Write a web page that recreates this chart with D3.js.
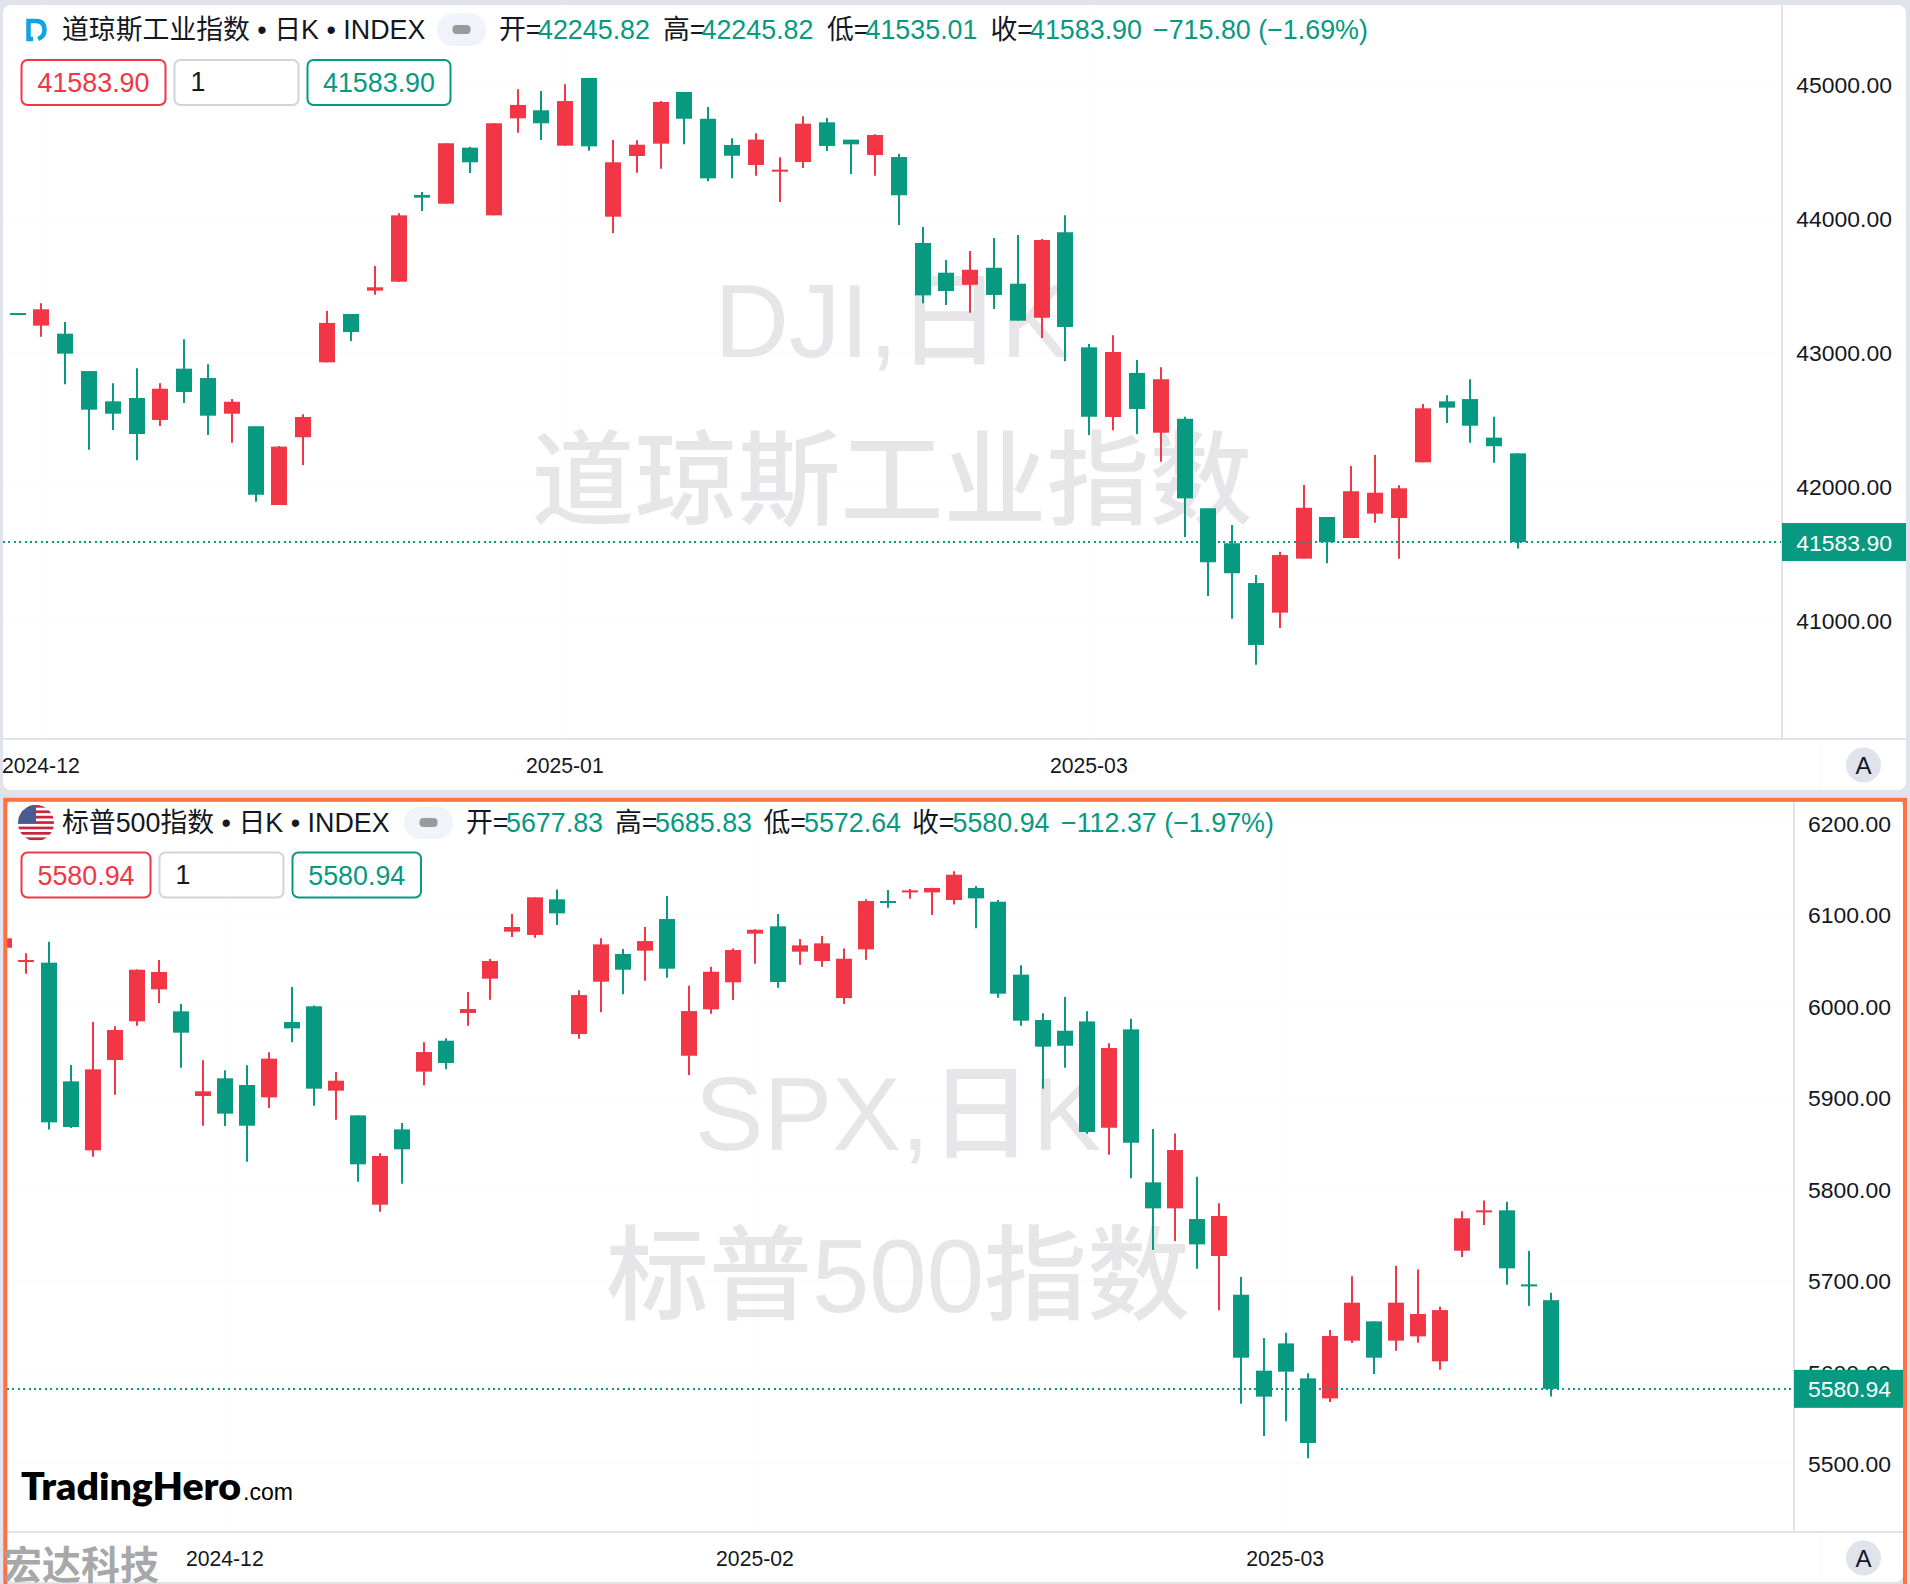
<!DOCTYPE html>
<html>
<head>
<meta charset="utf-8">
<script src="https://cdn.jsdelivr.net/npm/d3@7"></script>
<style>
    html, body { margin: 0; padding: 0; background: #e0e3eb; }
    svg { display: block; }
    text { font-family: "Liberation Sans", "Noto Sans CJK SC", sans-serif; }
</style>
</head>
<body>
<div id="chart-container"></div>
<script>
// Dow Jones daily candles
const djiOpen = [43293,43199,43139,42860,42634,42659,42495,42878,42808,42542,
    42448,41860,42366,42925,43286,43460,43527,44174,44109,44527,
    44022,44746,44806,44542,45047,44012,44465,44557,44943,44743,
    44547,44398,44351,44420,44716,44587,44472,44457,43816,43594,
    43504,43631,43512,43258,43896,43037,42517,42846,42400,42504,
    41836,41575,41278,41057,41460,41771,41614,41796,41763,42179,
    42634,42651,42363,42245.82];
const djiHigh = [43293,43366,43226,42860,42769,42881,42769,43097,42910,42651,
    42448,42301,42537,43308,43286,43644,44037,44196,44560,44534,
    44711,44963,44950,45000,45047,44584,44582,44875,44943,44831,
    44597,44634,44455,44761,44749,44587,44627,44482,43935,43689,
    43756,43853,43875,43846,44022,43062,43127,42943,42888,42519,
    41836,41711,41338,41512,42010,41771,42151,42234,42007,42614,
    42679,42799,42519,42245.82];
const djiLow = [43278,43116,42761,42273,42420,42194,42450,42622,42383,42325,
    41885,41860,42159,42925,43084,43430,43527,44054,44109,44338,
    44022,44639,44584,44542,44504,43888,44340,44370,44552,44276,
    44298,44318,44122,44375,44502,44331,44318,43950,43366,43353,
    43296,43323,43236,43107,42933,42383,42418,42390,42184,41622,
    41181,41012,40669,40943,41460,41425,41614,41728,41460,42179,
    42472,42325,42176,41535.01];
const djiClose = [43278,43321,42990,42572,42542,42390,42728,42704,42527,42631,
    41937,42296,42517,43219,43151,43485,44022,44154,44560,44418,
    44709,44846,44709,44875,44537,44418,44549,44868,44743,44298,
    44467,44587,44363,44706,44540,44552,44622,44172,43425,43457,
    43616,43428,43236,43838,43189,42519,43002,42577,42799,41910,
    41433,41351,40816,41487,41840,41582,41963,41952,41985,42582,
    42587,42452,42299,41583.90];
const djiTicks = [41000, 42000, 43000, 44000, 45000];
const djiMonthIndex = [1, 23, 45];
const djiMonths = ["2024-12", "2025-01", "2025-03"];

// S&P 500 daily candles
const spxOpen = [6063,6047.8,6046.7,5917,5841.6,5940.3,5982.6,6017.5,5993.5,5901,
    5920.3,5913,5899.5,5981.8,5999,5906.8,5879.8,5782.2,5864.5,5927.6,
    5961.4,5991.7,6029.2,6080.6,6077,6115.9,5968.7,6025.9,6056.2,6059.8,
    6094.4,5945,5995.7,6025.2,6078.4,6086.4,6058.7,6048.5,6008,6061.2,
    6114.1,6123.9,6123.5,6115.2,6128.3,6113.3,6033.6,5984,5972.3,5982.5,
    5866.3,5973.8,5806.6,5778.2,5766.5,5726.1,5683.8,5600.8,5630.6,5592.4,
    5570.5,5633.6,5654.7,5633.6,5638.3,5611,5731.9,5774.5,5776,5695.1,5677.83];
const spxHigh = [6075,6056.9,6069.6,5934.9,5981.9,5977.1,6039.3,6049.6,6001.5,5940,
    5929,5934.5,5948.7,6020.1,6000,5927.2,5879.8,5838.3,5871.5,5959.6,
    5964,6014.6,6050.7,6099.9,6118.1,6126.8,6016.5,6073.3,6061.6,6085.6,
    6119.5,6021.5,6042.3,6062.3,6083.1,6099.9,6072.5,6075.8,6062.3,6115.9,
    6126,6127.2,6128.6,6146.5,6130.5,6115.2,6043.8,5991.3,6009.1,5993.5,
    5958.5,5985.5,5864.9,5860.1,5812.8,5783.7,5703.1,5636.5,5642.3,5597.9,
    5645.2,5703.9,5654.7,5715.5,5711.5,5670.7,5774.9,5786.9,5785.5,5731.6,5685.83];
const spxLow = [6060,6034.7,5864.5,5866,5834.7,5902.4,5977.8,6002.6,5931.9,5868.5,
    5868.2,5829.2,5887.9,5959.6,5890.4,5875.1,5807.4,5774.6,5805.2,5912.6,
    5930.1,5977.8,6006.3,6074.7,6074,6087.9,5963.6,5992.4,6012.1,6027,
    6030.3,5923.9,5990.9,6005.9,6045.6,6019.3,6044.5,6042.3,6001.5,6049.9,
    6106.8,6116.6,6098.8,6110.4,6084.2,6008.4,5977.8,5908.9,5931.9,5859.8,
    5836.8,5811,5732.6,5742.5,5712.2,5666.7,5564.7,5529.4,5545.4,5505,
    5566.5,5631,5597.1,5622.6,5631.4,5601.9,5725,5760,5694.8,5671.5,5572.64];
const spxClose = [6073.3,6049.6,5872.2,5867.1,5930.1,5973.1,6039,6036.5,5970.2,5906.1,
    5881.7,5868.5,5941.8,5974.9,5909,5917.7,5826.3,5835.4,5842.7,5949,
    5937,5996,6048.5,6085.7,6118.1,6100.6,6011.3,6066.7,6039,6070.3,
    6040.1,5993.8,6036.8,6060.5,6082.7,6025.5,6065.6,6067.8,6051,6114.1,
    6112.2,6125.7,6128.3,6142.8,6117,6012.8,5983.3,5954.9,5955.9,5861.6,
    5953.4,5849.9,5778.2,5841.9,5738.8,5769.8,5615,5572.4,5599.7,5521.7,
    5638.7,5675.1,5615,5675.1,5662.7,5667,5767.3,5776,5712.6,5693.7,5580.94];
const spxTicks = [5500, 5600, 5700, 5800, 5900, 6000, 6100, 6200];
const spxMonthIndex = [10, 34, 58];
const spxMonths = ["2024-12", "2025-02", "2025-03"];

const UP = "#f23645", DOWN = "#089981", BG = "#e0e3eb", MARK = "#e6e6e8";
const FONT = 26.85, AXIS_FONT = 22.95, DATE_FONT = 21.2;

const svg = d3.select("#chart-container").append("svg")
    .attr("width", 1910).attr("height", 1584);

function txt(g, s, x, y, size, fill, anchor) {
    return g.append("text").attr("x", x).attr("y", y)
        .attr("font-size", size + "px").attr("fill", fill)
        .attr("text-anchor", anchor || "start").text(s);
}

function drawPanel(p) {
    const g = svg.append("g");

    g.append("rect").attr("x", p.left).attr("y", p.top)
        .attr("width", p.right - p.left).attr("height", p.bottom - p.top)
        .attr("rx", 8).attr("fill", "#fff");

    const x = d3.scalePoint().domain(d3.range(p.open.length)).range(p.xRange);
    const y = d3.scaleLinear().domain(p.yDomain).range(p.yRange);

    // faint grid
    g.append("g").selectAll("line").data(p.ticks).enter().append("line")
        .attr("x1", p.left).attr("x2", p.plotRight)
        .attr("y1", d => Math.round(y(d)) + 0.5).attr("y2", d => Math.round(y(d)) + 0.5)
        .attr("stroke", "#fbfbfc");
    g.append("g").selectAll("line").data(p.monthIndex).enter().append("line")
        .attr("x1", d => Math.round(x(d)) + 0.5).attr("x2", d => Math.round(x(d)) + 0.5)
        .attr("y1", p.top).attr("y2", p.plotBottom)
        .attr("stroke", "#fbfbfc");

    // watermark
    p.watermark.forEach(w => {
        txt(g, w[0], p.markX, w[1], 103, MARK, "middle").attr("font-weight", 500);
    });

    // candles
    const data = p.open.map((o, i) => ({ i, o, h: p.high[i], l: p.low[i], c: p.close[i] }));
    const candleColor = d => d.c >= d.o ? UP : DOWN;
    const candles = g.append("g").attr("clip-path", `url(#${p.id}-clip)`);
    svg.append("clipPath").attr("id", p.id + "-clip").append("rect")
        .attr("x", p.left).attr("y", p.top)
        .attr("width", p.plotRight - p.left).attr("height", p.plotBottom - p.top);

    candles.selectAll("line").data(data).enter().append("line")
        .attr("x1", d => Math.round(x(d.i))).attr("x2", d => Math.round(x(d.i)))
        .attr("y1", d => y(d.h)).attr("y2", d => y(d.l))
        .attr("stroke", candleColor).attr("stroke-width", 2);
    candles.selectAll("rect").data(data).enter().append("rect")
        .attr("x", d => Math.round(x(d.i)) - 8)
        .attr("width", 16)
        .attr("y", d => y(Math.max(d.o, d.c)))
        .attr("height", d => Math.max(2, Math.abs(y(d.o) - y(d.c))))
        .attr("fill", candleColor);

    // last price dotted line
    const last = p.close[p.close.length - 1];
    g.append("line")
        .attr("x1", p.left).attr("x2", p.plotRight)
        .attr("y1", Math.round(y(last))).attr("y2", Math.round(y(last)))
        .attr("stroke", DOWN).attr("stroke-width", 2)
        .attr("stroke-dasharray", "2 3.4")
        .attr("shape-rendering", "crispEdges");

    // plot borders
    g.append("line").attr("x1", p.plotRight + 1).attr("x2", p.plotRight + 1)
        .attr("y1", p.top).attr("y2", p.plotBottom)
        .attr("stroke", BG).attr("stroke-width", 2);
    g.append("line").attr("x1", p.left).attr("x2", p.right)
        .attr("y1", p.plotBottom + 1).attr("y2", p.plotBottom + 1)
        .attr("stroke", BG).attr("stroke-width", 2);
    g.append("line").attr("x1", 1820.5).attr("x2", 1820.5)
        .attr("y1", p.plotBottom + 2).attr("y2", p.axisBottom)
        .attr("stroke", "#f6f7f9");

    // price axis
    const yAxis = d3.axisRight(y).tickValues(p.ticks).tickSize(0).tickFormat(d3.format(".2f"));
    g.append("g")
        .attr("transform", `translate(${p.labelRight}, 0.5)`)
        .call(yAxis)
        .call(a => a.select(".domain").remove())
        .selectAll("text")
            .attr("x", 0)
            .attr("dy", "0.355em")
            .attr("text-anchor", "end")
            .attr("font-family", null)
            .attr("font-size", AXIS_FONT + "px")
            .attr("fill", "#131722");

    // last price tag
    g.append("rect").attr("x", p.plotRight + 1).attr("y", y(last) - 19)
        .attr("width", p.tagRight - p.plotRight - 1).attr("height", 38).attr("fill", DOWN);
    txt(g, d3.format(".2f")(last), p.labelRight, y(last) + 0.5 + AXIS_FONT * 0.355, AXIS_FONT, "#fff", "end");

    // time axis
    const xAxis = d3.axisBottom(x).tickValues(p.monthIndex).tickSize(0)
        .tickFormat(d => p.months[p.monthIndex.indexOf(d)]);
    g.append("g")
        .attr("transform", `translate(-1, ${p.dateY})`)
        .call(xAxis)
        .call(a => a.select(".domain").remove())
        .selectAll("text")
            .attr("y", 0)
            .attr("dy", "0.355em")
            .attr("font-family", null)
            .attr("font-size", DATE_FONT + "px")
            .attr("fill", "#131722");

    // auto button
    g.append("circle").attr("cx", 1863.5).attr("cy", p.dateY).attr("r", 17.5).attr("fill", BG);
    txt(g, "A", 1863.5, p.dateY + 8.5, 24, "#131722", "middle");

    // header
    const fmt = d3.format(".2f");
    const n = p.close.length - 1;
    txt(g, p.title, 62, p.headY, FONT, "#131722");
    g.append("rect").attr("x", p.pill[0]).attr("y", p.headY - 25.5)
        .attr("width", 49).attr("height", 32.5).attr("rx", 16).attr("fill", "#f0f3fa");
    g.append("rect").attr("x", p.pill[0] + 15.5).attr("y", p.headY - 14)
        .attr("width", 18).attr("height", 9).attr("rx", 4).attr("fill", "#9a9a9a");
    [["开=", p.open[n]], ["高=", p.high[n]], ["低=", p.low[n]], ["收=", p.close[n]]].forEach((f, k) => {
        txt(g, f[0], p.labelX[k], p.headY, FONT, "#131722");
        txt(g, fmt(f[1]), p.valueX[k], p.headY, FONT, DOWN);
    });
    txt(g, p.change, p.changeX, p.headY, FONT, DOWN);

    // trade boxes
    const priceText = fmt(last);
    const box = (bx, w, color) => g.append("rect")
        .attr("x", bx).attr("y", p.boxY).attr("width", w).attr("height", 45)
        .attr("rx", 6).attr("fill", "#fff").attr("stroke", color).attr("stroke-width", 2);
    box(p.box[0], p.box[1], UP);
    txt(g, priceText, p.box[0] + p.box[1] / 2, p.boxY + 32, FONT, UP, "middle");
    box(p.box[2], p.box[3], "#d1d4dc");
    txt(g, "1", p.box[2] + 16, p.boxY + 31, FONT, "#131722");
    box(p.box[4], p.box[5], DOWN);
    txt(g, priceText, p.box[4] + p.box[5] / 2, p.boxY + 32, FONT, DOWN, "middle");
}

drawPanel({
    id: "dji", open: djiOpen, high: djiHigh, low: djiLow, close: djiClose,
    ticks: djiTicks, monthIndex: djiMonthIndex, months: djiMonths,
    left: 3, right: 1906, top: 5, bottom: 790, plotRight: 1781, plotBottom: 738, axisBottom: 790,
    labelRight: 1892, tagRight: 1906, dateY: 765,
    xRange: [17.5, 1518], yDomain: [41000, 45000], yRange: [620.3, 84.3],
    markX: 892, watermark: [["DJI,日K", 357], ["道琼斯工业指数", 517]],
    title: "道琼斯工业指数 • 日K • INDEX", headY: 39, pill: [437],
    labelX: [499, 663, 827, 990.5], valueX: [538, 701.5, 865.5, 1030],
    change: "−715.80 (−1.69%)", changeX: 1153,
    boxY: 60, box: [21.5, 144, 174.5, 124, 307.5, 143]
});

drawPanel({
    id: "spx", open: spxOpen, high: spxHigh, low: spxLow, close: spxClose,
    ticks: spxTicks, monthIndex: spxMonthIndex, months: spxMonths,
    left: 7, right: 1903, top: 800, bottom: 1582, plotRight: 1793, plotBottom: 1531, axisBottom: 1580,
    labelRight: 1891, tagRight: 1903, dateY: 1558,
    xRange: [4.4, 1550.7], yDomain: [5500, 6200], yRange: [1462.9, 822.4],
    markX: 898, watermark: [["SPX,日K", 1150], ["标普500指数", 1312]],
    title: "标普500指数 • 日K • INDEX", headY: 832, pill: [404],
    labelX: [466, 615, 763.5, 912], valueX: [506, 655, 804, 952.5],
    change: "−112.37 (−1.97%)", changeX: 1061,
    boxY: 852.5, box: [21.5, 129, 159.5, 124, 292.5, 128.5]
});

// Dow icon
svg.append("path").attr("d", "M33 39H28.5V21H36Q44.5 21 44.5 30Q44.5 36.5 38 39")
    .attr("fill", "none").attr("stroke", "#12a3e6").attr("stroke-width", 4.5);

// US flag icon
const flag = svg.append("g").attr("clip-path", "url(#flag-clip)");
svg.append("clipPath").attr("id", "flag-clip").append("circle")
    .attr("cx", 36).attr("cy", 823).attr("r", 18);
flag.append("rect").attr("x", 18).attr("y", 805).attr("width", 36).attr("height", 36).attr("fill", "#fff");
flag.selectAll("rect.stripe").data(d3.range(7)).enter().append("rect")
    .attr("class", "stripe").attr("x", 18).attr("width", 36)
    .attr("y", d => 805 + d * 5.4).attr("height", 2.7).attr("fill", "#c8243c");
flag.append("rect").attr("x", 18).attr("y", 805).attr("width", 18).attr("height", 18).attr("fill", "#4a5a94");

// orange frame of the active panel
svg.append("rect").attr("x", 5.3).attr("y", 799.8).attr("width", 1899.7).attr("height", 1782)
    .attr("fill", "none").attr("stroke", "#ff7043").attr("stroke-width", 4);

// logos
svg.append("text").attr("x", 21).attr("y", 1500)
    .attr("font-size", "37px").attr("font-weight", 800).attr("fill", "#000")
    .style("font-family", "Lato")
    .attr("textLength", 220).attr("lengthAdjust", "spacingAndGlyphs")
    .text("TradingHero");
txt(svg, ".com", 243, 1500, 23, "#000");
svg.append("text").attr("x", 3).attr("y", 1579)
    .attr("font-size", "39px").attr("font-weight", 700).attr("fill", "#9c9c9c")
    .attr("fill-opacity", 0.9)
    .text("宏达科技");
</script>
</body>
</html>
